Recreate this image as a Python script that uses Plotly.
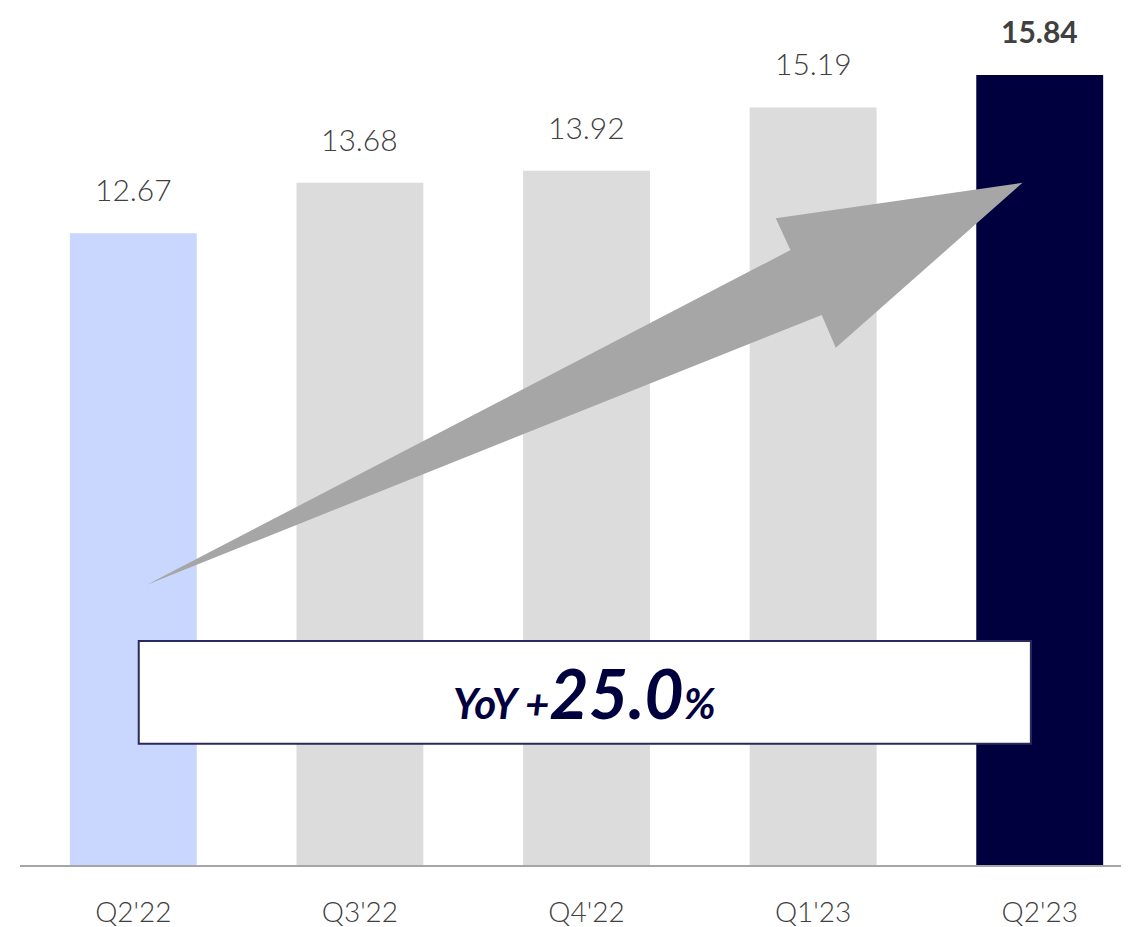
import plotly.graph_objects as go

quarters = ["Q2'22", "Q3'22", "Q4'22", "Q1'23", "Q2'23"]
values = [12.67, 13.68, 13.92, 15.19, 15.84]
bar_colors = ["#C9D6FD", "#DCDCDC", "#DCDCDC", "#DCDCDC", "#01003F"]
yoy_pct = 25.0

xs = list(range(len(quarters)))

fig = go.Figure()

fig.add_trace(go.Bar(
    x=xs, y=values,
    width=0.56,
    marker=dict(color=bar_colors, line=dict(width=0)),
    hoverinfo="skip",
))

# value labels above the bars
for i, v in enumerate(values):
    last = i == len(values) - 1
    fig.add_annotation(
        x=xs[i], y=v, xref="x", yref="y",
        text=f"<b>{v:.2f}</b>" if last else f"{v:.2f}",
        showarrow=False, yanchor="bottom", yshift=24,
        font=dict(size=30, color="#404040", family="Lato", weight=300),
    )

# big grey arrow (decoration), in data units
arrow = [(0.06, 5.62), (2.90, 12.33), (2.835, 12.97), (3.924, 13.68),
         (3.10, 10.37), (3.038, 11.03)]
path = "M " + " L ".join(f"{x},{y}" for x, y in arrow) + " Z"
fig.add_shape(type="path", path=path, xref="x", yref="y",
              fillcolor="#A6A6A6", line=dict(width=0), layer="above")

# YoY box
box_x0, box_x1 = 0.024, 3.961
fig.add_shape(type="rect", xref="x", yref="y",
              x0=box_x0, x1=box_x1, y0=2.43, y1=4.49,
              fillcolor="white", line=dict(color="#2A2A5A", width=2), layer="above")
fig.add_annotation(
    x=(box_x0 + box_x1) / 2, y=(2.43 + 4.49) / 2, xref="x", yref="y",
    text=f"<i><b>YoY +<span style='font-size:68px'>{yoy_pct:.1f}</span>%</b></i>",
    showarrow=False,
    font=dict(size=42, color="#01003F", family="Lato"),
)

# page body has an 8px margin, so the figure is a bit smaller than the window
fig.update_layout(
    width=1121, height=919,
    margin=dict(l=12, r=0, t=0, b=62, autoexpand=False),
    plot_bgcolor="white", paper_bgcolor="white",
    showlegend=False,
)
fig.update_xaxes(
    range=[-0.5, 4.394],
    tickvals=xs, ticktext=quarters,
    tickfont=dict(size=28, color="#404040", family="Lato", weight=300),
    showline=True, linecolor="#A6A6A6", linewidth=2,
    showgrid=False, zeroline=False, automargin=False,
    ticks="", ticklabelstandoff=21,
)
fig.update_yaxes(range=[0, 17.185], visible=False, showgrid=False, zeroline=False)

fig.write_html("out.html")
